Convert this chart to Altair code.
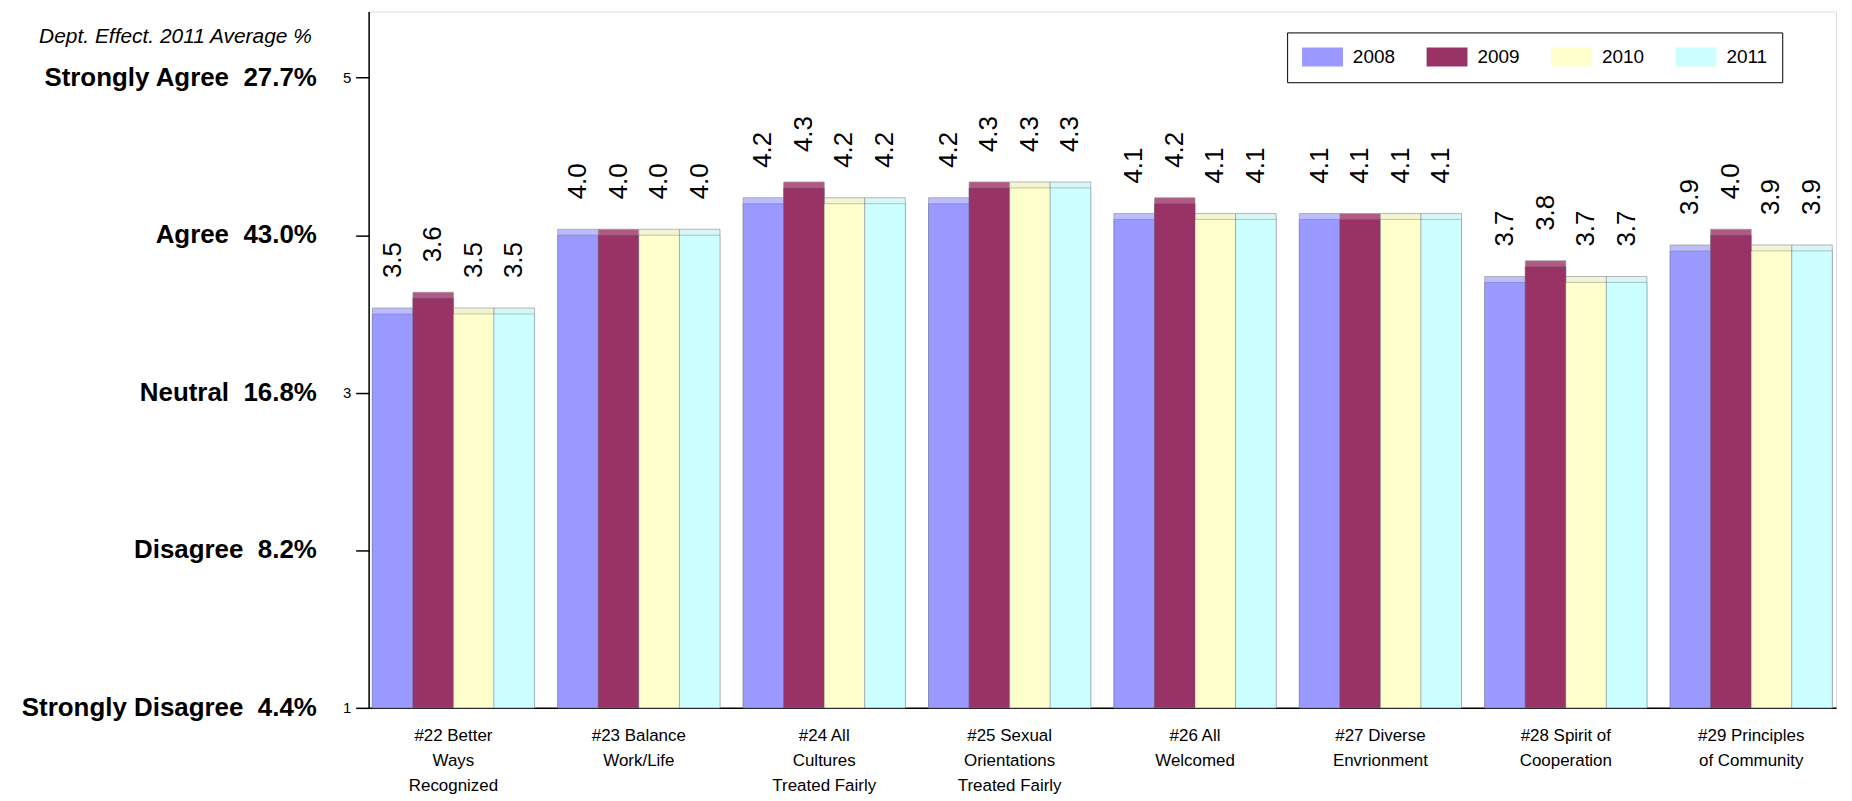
import altair as alt
import pandas as pd

categories = [
    "#22 Better\nWays\nRecognized",
    "#23 Balance\nWork/Life",
    "#24 All\nCultures\nTreated Fairly",
    "#25 Sexual\nOrientations\nTreated Fairly",
    "#26 All\nWelcomed",
    "#27 Diverse\nEnvrionment",
    "#28 Spirit of\nCooperation",
    "#29 Principles\nof Community",
]
years = ["2008", "2009", "2010", "2011"]
values_2008 = [3.5, 4.0, 4.2, 4.2, 4.1, 4.1, 3.7, 3.9]
values_2009 = [3.6, 4.0, 4.3, 4.3, 4.2, 4.1, 3.8, 4.0]
values_2010 = [3.5, 4.0, 4.2, 4.3, 4.1, 4.1, 3.7, 3.9]
values_2011 = [3.5, 4.0, 4.2, 4.3, 4.1, 4.1, 3.7, 3.9]
colors = ["#9999FF", "#993366", "#FFFFCC", "#CCFFFF"]
side_colors = ["#bcbcff", "#b05a85", "#f4f4d2", "#d8f6f6"]

scale_levels = [5, 4, 3, 2, 1]
scale_labels = [
    "Strongly Agree\u00a0 27.7%",
    "Agree\u00a0 43.0%",
    "Neutral\u00a0 16.8%",
    "Disagree\u00a0 8.2%",
    "Strongly Disagree\u00a0 4.4%",
]
corner_note = "Dept. Effect. 2011 Average %"

series = [values_2008, values_2009, values_2010, values_2011]
rows = []
for yi, yr in enumerate(years):
    for ci, cat in enumerate(categories):
        rows.append({"cat": cat, "year": yr, "value": series[yi][ci],
                     "side": side_colors[yi]})
df = pd.DataFrame(rows)
levels_df = pd.DataFrame({"level": scale_levels, "label": scale_labels})
note_df = pd.DataFrame({"note": [corner_note]})

FONT = "Liberation Sans"
yscale = alt.Scale(domain=[1, 5.42], nice=False, zero=False)
xenc = alt.X("cat:N", sort=categories, title=None,
             scale=alt.Scale(paddingInner=0.125, paddingOuter=0.02),
             axis=alt.Axis(labelExpr="split(datum.label, '\\n')", labelAngle=0,
                           labelFontSize=17, labelFont=FONT, labelColor="#000",
                           labelLineHeight=25, labelPadding=20, ticks=False,
                           domainColor="#000", domainWidth=1.5, labelLimit=300))
xoff = alt.XOffset("year:N", sort=years)

base = alt.Chart(df)

back = base.mark_bar(yOffset=-6, stroke="#9a9a9a", strokeWidth=0.7).encode(
    x=xenc, xOffset=xoff,
    y=alt.Y("value:Q", scale=yscale),
    y2=alt.datum(1),
    color=alt.Color("side:N", scale=None),
)

bars = base.mark_bar(stroke="#606080", strokeWidth=0.6, strokeOpacity=0.6).encode(
    x=xenc, xOffset=xoff,
    y=alt.Y("value:Q", scale=yscale, title=None,
            axis=alt.Axis(values=[1, 2, 3, 4, 5],
                          labelExpr="datum.value % 2 == 1 ? format(datum.value, 'd') : ''",
                          tickSize=13, tickColor="#000", domainColor="#000",
                          domainWidth=1.5, tickWidth=1.5, grid=False,
                          labelFontSize=15, labelFont=FONT, labelColor="#000",
                          labelPadding=5)),
    y2=alt.datum(1),
    color=alt.Color("year:N", sort=years,
                    scale=alt.Scale(domain=years, range=colors),
                    legend=alt.Legend(
                        title=None, orient="none", legendX=922, legendY=21,
                        direction="horizontal", strokeColor="#000",
                        fillColor="#fff", padding=15,
                        symbolType="M-1,-1L3.32,-1L3.32,1L-1,1Z",
                        symbolSize=361, symbolStrokeWidth=0,
                        symbolOpacity=1, labelFontSize=19, labelFont=FONT,
                        labelColor="#000", labelOffset=32, columnPadding=31,
                    )),
)

labels = base.mark_text(angle=270, align="left", baseline="middle", dx=36,
                        fontSize=26, font=FONT, color="#000").encode(
    x=xenc, xOffset=xoff,
    y=alt.Y("value:Q", scale=yscale),
    text=alt.Text("value:Q", format=".1f"),
)

level_text = alt.Chart(levels_df).mark_text(
    align="right", baseline="middle", fontSize=26, fontWeight="bold",
    font=FONT, color="#000").encode(
    x=alt.value(-52),
    y=alt.Y("level:Q", scale=yscale),
    text="label:N",
)

note_text = alt.Chart(note_df).mark_text(
    align="right", baseline="middle", fontSize=21, fontStyle="italic",
    font=FONT, color="#000").encode(
    x=alt.value(-57), y=alt.value(26), text="note:N",
)

chart = alt.layer(back, bars, labels, level_text, note_text).properties(
    width=1473, height=699,
    padding={"left": 362, "top": 2, "right": 8, "bottom": 88},
    autosize=alt.AutoSizeParams(type="none"),
).configure_view(stroke="#000", strokeWidth=1.5).configure(background="#fff")

chart.save("out.html", embed_options={"renderer": "svg", "actions": False})
